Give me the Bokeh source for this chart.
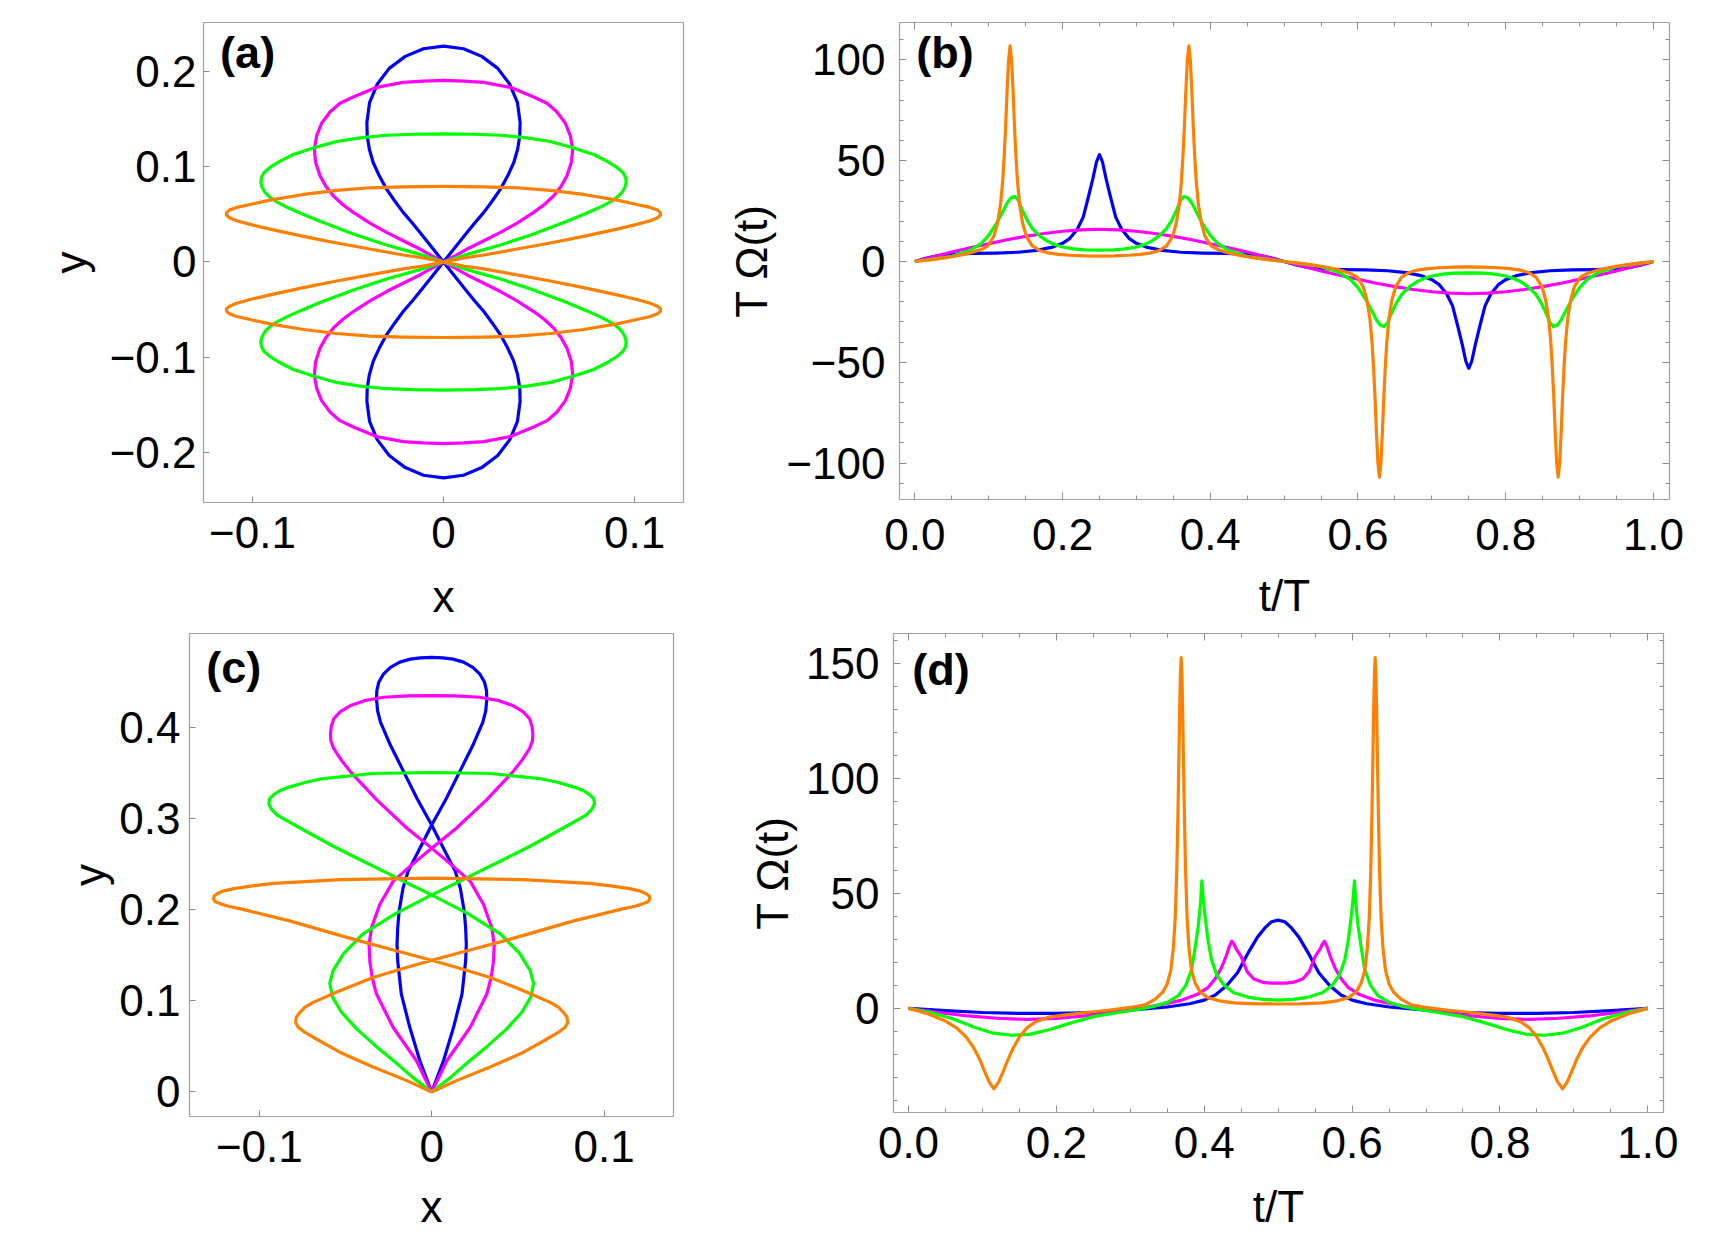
from bokeh.plotting import figure
from bokeh.models import FixedTicker, CustomJSTickFormatter, LinearAxis, Label, Range1d
from bokeh.layouts import column, row
from bokeh.embed import file_html
from bokeh.resources import INLINE

# ---------------- (a) closed orbits, x-y plane (one row per quadrant) ----------------
a_blue_x = [0, .0054, .0105, .0159, .0211, .0256, .0298, .0336, .0368, .0388, .0399, .0401, .0387, .0347, .0284, .0200, .0105, 0,
            -.0105, -.0200, -.0284, -.0347, -.0387, -.0401, -.0399, -.0388, -.0368, -.0336, -.0298, -.0256, -.0211, -.0159, -.0105, -.0054, 0,
            .0054, .0105, .0159, .0211, .0256, .0298, .0336, .0368, .0388, .0399, .0401, .0387, .0347, .0284, .0200, .0105, 0,
            -.0105, -.0200, -.0284, -.0347, -.0387, -.0401, -.0399, -.0388, -.0368, -.0336, -.0298, -.0256, -.0211, -.0159, -.0105, -.0054, 0]
a_blue_y = [0, .0136, .0265, .0398, .0520, .0642, .0764, .0903, .1043, .1182, .1322, .1461, .1671, .1863, .2030, .2156, .2236, .2264,
            .2236, .2156, .2030, .1863, .1671, .1461, .1322, .1182, .1043, .0903, .0764, .0642, .0520, .0398, .0265, .0136, 0,
            -.0136, -.0265, -.0398, -.0520, -.0642, -.0764, -.0903, -.1043, -.1182, -.1322, -.1461, -.1671, -.1863, -.2030, -.2156, -.2236, -.2264,
            -.2236, -.2156, -.2030, -.1863, -.1671, -.1461, -.1322, -.1182, -.1043, -.0903, -.0764, -.0642, -.0520, -.0398, -.0265, -.0136, 0]

a_magenta_x = [0, .0063, .0124, .0211, .0298, .0385, .0472, .0528, .0577, .0615, .0646, .0669, .0676, .0664, .0638, .0594, .0542, .0472, .0350, .0211, .0106, 0,
               -.0106, -.0211, -.0350, -.0472, -.0542, -.0594, -.0638, -.0664, -.0676, -.0669, -.0646, -.0615, -.0577, -.0528, -.0472, -.0385, -.0298, -.0211, -.0124, -.0063, 0,
               .0063, .0124, .0211, .0298, .0385, .0472, .0528, .0577, .0615, .0646, .0669, .0676, .0664, .0638, .0594, .0542, .0472, .0350, .0211, .0106, 0,
               -.0106, -.0211, -.0350, -.0472, -.0542, -.0594, -.0638, -.0664, -.0676, -.0669, -.0646, -.0615, -.0577, -.0528, -.0472, -.0385, -.0298, -.0211, -.0124, -.0063, 0]
a_magenta_y = [0, .0066, .0136, .0223, .0310, .0408, .0520, .0603, .0694, .0792, .0903, .1043, .1182, .1322, .1454, .1573, .1664, .1730, .1831, .1883, .1897, .1904,
               .1897, .1883, .1831, .1730, .1664, .1573, .1454, .1322, .1182, .1043, .0903, .0792, .0694, .0603, .0520, .0408, .0310, .0223, .0136, .0066, 0,
               -.0066, -.0136, -.0223, -.0310, -.0408, -.0520, -.0603, -.0694, -.0792, -.0903, -.1043, -.1182, -.1322, -.1454, -.1573, -.1664, -.1730, -.1831, -.1883, -.1897, -.1904,
               -.1897, -.1883, -.1831, -.1730, -.1664, -.1573, -.1454, -.1322, -.1182, -.1043, -.0903, -.0792, -.0694, -.0603, -.0520, -.0408, -.0310, -.0223, -.0136, -.0066, 0]

a_green_x = [0, .0124, .0298, .0472, .0646, .0751, .0821, .0873, .0908, .0934, .0949, .0956, .0953, .0939, .0908, .0855, .0786, .0681, .0559, .0437, .0298, .0159, 0,
             -.0159, -.0298, -.0437, -.0559, -.0681, -.0786, -.0855, -.0908, -.0939, -.0953, -.0956, -.0949, -.0934, -.0908, -.0873, -.0821, -.0751, -.0646, -.0472, -.0298, -.0124, 0,
             .0124, .0298, .0472, .0646, .0751, .0821, .0873, .0908, .0934, .0949, .0956, .0953, .0939, .0908, .0855, .0786, .0681, .0559, .0437, .0298, .0159, 0,
             -.0159, -.0298, -.0437, -.0559, -.0681, -.0786, -.0855, -.0908, -.0939, -.0953, -.0956, -.0949, -.0934, -.0908, -.0873, -.0821, -.0751, -.0646, -.0472, -.0298, -.0124, 0]
a_green_y = [0, .0080, .0178, .0293, .0426, .0513, .0576, .0631, .0677, .0729, .0781, .0834, .0886, .0938, .0991, .1057, .1127, .1196, .1263, .1301, .1329, .1339, .1343,
             .1339, .1329, .1301, .1263, .1196, .1127, .1057, .0991, .0938, .0886, .0834, .0781, .0729, .0677, .0631, .0576, .0513, .0426, .0293, .0178, .0080, 0,
             -.0080, -.0178, -.0293, -.0426, -.0513, -.0576, -.0631, -.0677, -.0729, -.0781, -.0834, -.0886, -.0938, -.0991, -.1057, -.1127, -.1196, -.1263, -.1301, -.1329, -.1339, -.1343,
             -.1339, -.1329, -.1301, -.1263, -.1196, -.1127, -.1057, -.0991, -.0938, -.0886, -.0834, -.0781, -.0729, -.0677, -.0631, -.0576, -.0513, -.0426, -.0293, -.0178, -.0080, 0]

a_orange_x = [0, .0106, .0211, .0385, .0559, .0733, .0908, .1012, .1082, .1120, .1136, .1134, .1120, .1082, .1012, .0908, .0733, .0559, .0385, .0211, 0,
              -.0211, -.0385, -.0559, -.0733, -.0908, -.1012, -.1082, -.1120, -.1134, -.1136, -.1120, -.1082, -.1012, -.0908, -.0733, -.0559, -.0385, -.0211, -.0106, 0,
              .0106, .0211, .0385, .0559, .0733, .0908, .1012, .1082, .1120, .1136, .1134, .1120, .1082, .1012, .0908, .0733, .0559, .0385, .0211, 0,
              -.0211, -.0385, -.0559, -.0733, -.0908, -.1012, -.1082, -.1120, -.1134, -.1136, -.1120, -.1082, -.1012, -.0908, -.0733, -.0559, -.0385, -.0211, -.0106, 0]
a_orange_y = [0, .0042, .0073, .0136, .0199, .0269, .0345, .0394, .0433, .0464, .0492, .0520, .0544, .0572, .0603, .0649, .0708, .0750, .0778, .0788, .0792,
              .0788, .0778, .0750, .0708, .0649, .0603, .0572, .0544, .0520, .0492, .0464, .0433, .0394, .0345, .0269, .0199, .0136, .0073, .0042, 0,
              -.0042, -.0073, -.0136, -.0199, -.0269, -.0345, -.0394, -.0433, -.0464, -.0492, -.0520, -.0544, -.0572, -.0603, -.0649, -.0708, -.0750, -.0778, -.0788, -.0792,
              -.0788, -.0778, -.0750, -.0708, -.0649, -.0603, -.0572, -.0544, -.0520, -.0492, -.0464, -.0433, -.0394, -.0345, -.0269, -.0199, -.0136, -.0073, -.0042, 0]

# ---------------- (b) T*Omega(t) for the orbits of (a) ----------------
b_blue_t = [0, .015, .03, .05, .08, .11, .14, .165, .185, .2, .21, .22, .228, .235, .241, .246, .25,
            .254, .259, .265, .272, .28, .29, .3, .315, .335, .36, .39, .42, .45, .47, .485, .5,
            .515, .53, .55, .58, .61, .64, .665, .685, .7, .71, .72, .728, .735, .741, .746, .75,
            .754, .759, .765, .772, .78, .79, .8, .815, .835, .86, .89, .92, .95, .97, .985, 1.0]
b_blue_v = [0, 1.6, 2.8, 3.6, 4.0, 4.2, 4.6, 5.5, 7.0, 9.0, 11.5, 16, 22, 32, 41, 49.5, 53,
            49.5, 41, 32, 22, 16, 11.5, 9.0, 7.0, 5.5, 4.6, 4.2, 4.0, 3.6, 2.8, 1.6, 0,
            -1.6, -2.8, -3.6, -4.0, -4.2, -4.6, -5.5, -7.0, -9.0, -11.5, -16, -22, -32, -41, -49.5, -53,
            -49.5, -41, -32, -22, -16, -11.5, -9.0, -7.0, -5.5, -4.6, -4.2, -4.0, -3.6, -2.8, -1.6, 0]

b_magenta_t = [0, .025, .05, .075, .1, .125, .15, .175, .2, .225, .25, .275, .3, .325, .35, .375, .4, .425, .45, .475, .5,
               .525, .55, .575, .6, .625, .65, .675, .7, .725, .75, .775, .8, .825, .85, .875, .9, .925, .95, .975, 1.0]
b_magenta_v = [0, 2.3, 4.7, 6.8, 8.8, 10.8, 12.5, 13.9, 15.0, 15.7, 16.0, 15.7, 15.0, 13.9, 12.5, 10.8, 8.8, 6.8, 4.7, 2.3, 0,
               -2.3, -4.7, -6.8, -8.8, -10.8, -12.5, -13.9, -15.0, -15.7, -16.0, -15.7, -15.0, -13.9, -12.5, -10.8, -8.8, -6.8, -4.7, -2.3, 0]

b_green_t = [0, .025, .05, .075, .09, .1, .11, .118, .125, .13, .1353, .14, .145, .152, .16, .17, .18, .19, .2, .215, .23, .25,
             .27, .285, .3, .31, .32, .33, .34, .348, .355, .36, .3647, .37, .375, .382, .39, .4, .41, .425, .45, .475, .5,
             .525, .55, .575, .59, .6, .61, .618, .625, .63, .6353, .64, .645, .652, .66, .67, .68, .69, .7, .715, .73, .75,
             .77, .785, .8, .81, .82, .83, .84, .848, .855, .86, .8647, .87, .875, .882, .89, .9, .91, .925, .95, .975, 1.0]
b_green_v = [0, 1.2, 2.6, 5.5, 9, 13, 18.5, 24, 29, 31.5, 32.3, 30.5, 26, 20.5, 16, 12.5, 10, 8.3, 7.2, 6.3, 5.8, 5.6,
             5.8, 6.3, 7.2, 8.3, 10, 12.5, 16, 20.5, 26, 30.5, 32.3, 31.5, 29, 24, 18.5, 13, 9, 5.5, 2.6, 1.2, 0,
             -1.2, -2.6, -5.5, -9, -13, -18.5, -24, -29, -31.5, -32.3, -30.5, -26, -20.5, -16, -12.5, -10, -8.3, -7.2, -6.3, -5.8, -5.6,
             -5.8, -6.3, -7.2, -8.3, -10, -12.5, -16, -20.5, -26, -30.5, -32.3, -31.5, -29, -24, -18.5, -13, -9, -5.5, -2.6, -1.2, 0]

b_orange_t = [0, .02, .04, .06, .075, .089, .099, .107, .112, .116, .119, .121, .123, .125, .127, .129, .131, .133, .135, .137,
              .139, .142, .146, .151, .159, .169, .18, .195, .21, .23, .25, .27, .29, .305, .32, .331, .341, .349, .354, .358,
              .361, .363, .365, .367, .369, .371, .373, .375, .377, .379, .381, .384, .388, .393, .401, .411, .425, .44, .46, .48, .5,
              .52, .54, .56, .575, .589, .599, .607, .612, .616, .619, .621, .623, .625, .627, .629, .631, .633, .635, .637, .639,
              .642, .646, .651, .659, .669, .68, .695, .71, .73, .75, .77, .79, .805, .82, .831, .841, .849, .854, .858, .861,
              .863, .865, .867, .869, .871, .873, .875, .877, .879, .881, .884, .888, .893, .901, .911, .925, .94, .96, .98, 1.0]
b_orange_v = [0, .8, 1.8, 3.0, 4.2, 5.8, 7.8, 12.5, 19, 28, 40, 52, 67, 85, 100, 107, 100, 85, 67, 52,
              40, 28, 19, 12.5, 7.8, 5.5, 4.3, 3.5, 3.1, 2.8, 2.7, 2.8, 3.1, 3.5, 4.3, 5.5, 7.8, 12.5, 19, 28,
              40, 52, 67, 85, 100, 107, 100, 85, 67, 52, 40, 28, 19, 12.5, 7.8, 5.8, 4.2, 3.0, 1.8, .8, 0,
              -.8, -1.8, -3.0, -4.2, -5.8, -7.8, -12.5, -19, -28, -40, -52, -67, -85, -100, -107, -100, -85, -67, -52, -40,
              -28, -19, -12.5, -7.8, -5.5, -4.3, -3.5, -3.1, -2.8, -2.7, -2.8, -3.1, -3.5, -4.3, -5.5, -7.8, -12.5, -19, -28, -40,
              -52, -67, -85, -100, -107, -100, -85, -67, -52, -40, -28, -19, -12.5, -7.8, -5.8, -4.2, -3.0, -1.8, -.8, 0]

# ---------------- (c) orbits starting at the origin, x-y plane ----------------
c_blue_x = [0, .0069, .0127, .0176, .0197, .0201, .0197, .0189, .0166, .0137, .0069, 0, -.0085, -.0162, -.0239, -.0297, -.0314,
            -.0320, -.0318, -.0307, -.0280, -.0239, -.0185, -.0124, -.0065, 0,
            .0065, .0124, .0185, .0239, .0280, .0307, .0318, .0320, .0314, .0297, .0239, .0162, .0085, 0, -.0069, -.0137,
            -.0166, -.0189, -.0197, -.0201, -.0197, -.0176, -.0127, -.0069, 0]
c_blue_y = [0, .0345, .0709, .1073, .1436, .1618, .1800, .1982, .2236, .2418, .2670, .2927, .3218, .3509, .3800, .4055, .4180,
            .4309, .4400, .4491, .4580, .4655, .4712, .4745, .4758, .4764,
            .4758, .4745, .4712, .4655, .4580, .4491, .4400, .4309, .4180, .4055, .3800, .3509, .3218, .2927, .2670, .2418,
            .2236, .1982, .1800, .1618, .1436, .1073, .0709, .0345, 0]

c_magenta_x = [0, .0089, .0224, .0320, .0345, .0359, .0363, .0349, .0301, .0224, .0115, 0, -.0143, -.0317, -.0471, -.0525,
               -.0568, -.0585, -.0587, -.0582, -.0568, -.0530, -.0471, -.0390, -.0278, -.0140, 0,
               .0140, .0278, .0390, .0471, .0530, .0568, .0582, .0587, .0585, .0568, .0525, .0471, .0317, .0143, 0,
               -.0115, -.0224, -.0301, -.0349, -.0363, -.0359, -.0345, -.0320, -.0224, -.0089, 0]
c_magenta_y = [0, .0345, .0709, .1073, .1255, .1436, .1618, .1800, .2055, .2309, .2490, .2673, .2891, .3200, .3509, .3640,
               .3764, .3850, .3927, .4010, .4091, .4170, .4236, .4290, .4327, .4342, .4345,
               .4342, .4327, .4290, .4236, .4170, .4091, .4010, .3927, .3850, .3764, .3640, .3509, .3200, .2891, .2673,
               .2490, .2309, .2055, .1800, .1618, .1436, .1255, .1073, .0709, .0345, 0]

c_green_x = [0, .0110, .0214, .0330, .0437, .0524, .0575, .0591, .0572, .0510, .0400, .0210, 0, -.0143, -.0278, -.0394,
             -.0568, -.0761, -.0896, -.0930, -.0945, -.0940, -.0919, -.0880, -.0822, -.0730, -.0629, -.0340, 0,
             .0340, .0629, .0730, .0822, .0880, .0919, .0940, .0945, .0930, .0896, .0761, .0568, .0394, .0278, .0143, 0,
             -.0210, -.0400, -.0510, -.0572, -.0591, -.0575, -.0524, -.0437, -.0330, -.0214, -.0110, 0]
c_green_y = [0, .0160, .0331, .0513, .0695, .0877, .1040, .1190, .1330, .1520, .1730, .1955, .2160, .2291, .2418, .2527,
             .2691, .2891, .3036, .3100, .3164, .3215, .3255, .3305, .3345, .3395, .3436, .3491, .3502,
             .3491, .3436, .3395, .3345, .3305, .3255, .3215, .3164, .3100, .3036, .2891, .2691, .2527, .2418, .2291, .2160,
             .1955, .1730, .1520, .1330, .1190, .1040, .0877, .0695, .0513, .0331, .0160, 0]

c_orange_x = [0, .0147, .0340, .0533, .0687, .0740, .0774, .0790, .0785, .0764, .0735, .0687, .0533, .0340, .0147, 0,
              -.0239, -.0452, -.0819, -.1108, -.1180, -.1224, -.1255, -.1266, -.1262, -.1243, -.1205, -.1147, -.1040, -.0915, -.0529, 0,
              .0529, .0915, .1040, .1147, .1205, .1243, .1262, .1266, .1255, .1224, .1180, .1108, .0819, .0452, .0239, 0,
              -.0147, -.0340, -.0533, -.0687, -.0735, -.0764, -.0785, -.0790, -.0774, -.0740, -.0687, -.0533, -.0340, -.0147, 0]
c_orange_y = [0, .0127, .0273, .0436, .0600, .0660, .0709, .0764, .0820, .0873, .0930, .0982, .1109, .1255, .1364, .1444,
              .1564, .1673, .1873, .2007, .2036, .2062, .2085, .2116, .2148, .2175, .2205, .2229, .2260, .2287, .2327, .2345,
              .2327, .2287, .2260, .2229, .2205, .2175, .2148, .2116, .2085, .2062, .2036, .2007, .1873, .1673, .1564, .1444,
              .1364, .1255, .1109, .0982, .0930, .0873, .0820, .0764, .0709, .0660, .0600, .0436, .0273, .0127, 0]

# ---------------- (d) T*Omega(t) for the orbits of (c) ----------------
d_blue_t = [0, .05, .1, .15, .2, .25, .3, .35, .38, .4, .415, .43, .445, .46, .472, .482, .491, .5,
            .509, .518, .528, .54, .555, .57, .585, .6, .62, .65, .7, .75, .8, .85, .9, .95, 1.0]
d_blue_v = [0, -1, -1.8, -2.2, -2.2, -1.8, -0.8, 0.6, 2, 3.6, 5.8, 9.8, 15.5, 24.5, 31, 35, 37.7, 38.4,
            37.7, 35, 31, 24.5, 15.5, 9.8, 5.8, 3.6, 2, 0.6, -0.8, -1.8, -2.2, -2.2, -1.8, -1, 0]

d_magenta_t = [0, .04, .08, .12, .16, .2, .25, .3, .34, .37, .39, .405, .415, .423, .43, .434, .4373, .4405, .443, .45,
               .458, .467, .48, .49, .5, .51, .52, .533, .542, .55, .557, .5595, .5627, .566, .57, .577, .585, .595,
               .61, .63, .66, .7, .75, .8, .84, .88, .92, .96, 1.0]
d_magenta_v = [0, -1.8, -3.3, -4.3, -4.8, -4.4, -2.9, -0.8, 1.5, 3.6, 6, 9, 13, 17.5, 23, 27, 29.2, 27.8, 26, 22.5,
               16, 12.8, 11.3, 11, 11, 11, 11.3, 12.8, 16, 22.5, 26, 27.8, 29.2, 27, 23, 17.5, 13, 9,
               6, 3.6, 1.5, -0.8, -2.9, -4.4, -4.8, -4.3, -3.3, -1.8, 0]

d_green_t = [0, .03, .06, .09, .115, .14, .165, .19, .22, .25, .28, .31, .33, .35, .365, .375, .383, .388, .392, .395,
             .3968, .3986, .4005, .403, .4055, .41, .417, .427, .44, .46, .48, .5,
             .52, .54, .56, .573, .583, .59, .5945, .597, .5995, .6014, .6032, .605, .608, .612, .617, .625, .635, .65,
             .67, .69, .72, .75, .78, .81, .835, .86, .885, .91, .94, .97, 1.0]
d_green_v = [0, -1.8, -4.5, -8.3, -10.8, -11.7, -11.2, -9.3, -6.3, -3.6, -2, -0.5, 0.7, 2.6, 5.5, 10, 17, 27, 36, 46,
             55.5, 48, 42, 35, 29, 21, 14.5, 10, 6.8, 4.8, 3.9, 3.6,
             3.9, 4.8, 6.8, 10, 14.5, 21, 29, 35, 42, 48, 55.5, 46, 36, 27, 17, 10, 5.5, 2.6,
             0.7, -0.5, -2, -3.6, -6.3, -9.3, -11.2, -11.7, -10.8, -8.3, -4.5, -1.8, 0]

d_orange_t = [0, .025, .05, .065, .078, .088, .096, .103, .109, .1154, .122, .128, .135, .142, .15, .16, .172, .19, .21, .24,
              .27, .30, .32, .3338, .3438, .3498, .3548, .3583, .3608, .3628, .3643, .3658, .3668, .3678, .3688, .3698,
              .3708, .3718, .3733, .3748, .3768, .3793, .3828, .3878, .3938, .4038, .42, .44, .47, .5,
              .53, .56, .58, .5962, .6062, .6122, .6172, .6207, .6232, .6252, .6267, .6282, .6292, .6302, .6312, .6322,
              .6332, .6342, .6357, .6372, .6392, .6417, .6452, .6502, .6562, .6662, .68, .70, .73, .76, .79, .81, .828,
              .84, .85, .858, .865, .872, .878, .8846, .891, .897, .904, .912, .922, .935, .95, .975, 1.0]
d_orange_v = [0, -2.2, -5.5, -8.5, -12.5, -17, -22, -27.5, -32, -35, -32, -27.5, -22, -17, -12.5, -8.5, -5.8, -3.8, -2.9, -1.8,
              -0.8, 0.4, 1.5, 4, 7, 10.5, 16.5, 26.5, 39.5, 59.5, 82, 110, 130, 145, 152.6, 145,
              130, 110, 82, 59.5, 39.5, 26.5, 16.5, 11, 7.5, 4.8, 3.3, 2.4, 2.0, 1.9,
              2.0, 2.4, 3.3, 4.8, 7.5, 11, 16.5, 26.5, 39.5, 59.5, 82, 110, 130, 145, 152.6, 145,
              130, 110, 82, 59.5, 39.5, 26.5, 16.5, 10.5, 7, 4, 1.5, 0.4, -0.8, -1.8, -2.9, -3.8, -5.8,
              -8.5, -12.5, -17, -22, -27.5, -32, -35, -32, -27.5, -22, -17, -12.5, -8.5, -5.5, -2.2, 0]

# ---------------- tick positions ----------------
coord_ticks_a_x = [-0.1, 0, 0.1]
coord_ticks_a_y = [-0.2, -0.1, 0, 0.1, 0.2]
coord_ticks_c_x = [-0.1, 0, 0.1]
coord_ticks_c_y = [0, 0.1, 0.2, 0.3, 0.4]
time_ticks = [0, 0.2, 0.4, 0.6, 0.8, 1.0]
time_minor = [0.05, 0.1, 0.15, 0.25, 0.3, 0.35, 0.45, 0.5, 0.55, 0.65, 0.7, 0.75, 0.85, 0.9, 0.95]
omega_ticks_b = [-100, -50, 0, 50, 100]
omega_minor_b = [-110, -90, -80, -70, -60, -40, -30, -20, -10, 10, 20, 30, 40, 60, 70, 80, 90, 110]
omega_ticks_d = [0, 50, 100, 150]
omega_minor_d = [-40, -30, -20, -10, 10, 20, 30, 40, 60, 70, 80, 90, 110, 120, 130, 140, 160]

BLUE, MAGENTA, GREEN, ORANGE = "#0000ff", "#ff00ff", "#00ff00", "#ff8000"
FONT = "Liberation Sans"
FRAME_COLOR = "#a0a0a0"
TICK_COLOR = "#8c8c8c"

FMT_COORD = """
if (Math.abs(tick) < 1e-9) { return "0"; }
const s = Math.abs(tick).toFixed(1);
return (tick < 0 ? "\u2212" : "") + s;
"""
FMT_TIME = "return tick.toFixed(1);"
FMT_INT = """
const v = Math.round(tick);
return (v < 0 ? "\u2212" : "") + Math.abs(v);
"""
FMT_BLANK = "return '';"


def style_axis(ax, ticks, minor, fmt, label=None, standoff=8, label_standoff=8, tick_len=6, size="44px"):
    ax.ticker = FixedTicker(ticks=ticks, minor_ticks=minor)
    ax.formatter = CustomJSTickFormatter(code=fmt)
    ax.axis_line_color = None
    ax.major_tick_in = tick_len
    ax.major_tick_out = 0
    ax.minor_tick_in = 4
    ax.minor_tick_out = 0
    ax.major_tick_line_color = TICK_COLOR
    ax.minor_tick_line_color = TICK_COLOR if minor else None
    ax.major_label_standoff = standoff
    ax.major_label_text_font = FONT
    ax.major_label_text_font_size = size
    ax.major_label_text_color = "black"
    if label is not None:
        ax.axis_label = label
        ax.axis_label_standoff = label_standoff
        ax.axis_label_text_font = FONT
        ax.axis_label_text_font_size = "44px"
        ax.axis_label_text_font_style = "normal"
        ax.axis_label_text_color = "black"


def make_panel(xr, yr, fw, fh, borders):
    left, right, top, bottom = borders
    p = figure(frame_width=fw, frame_height=fh,
               x_range=Range1d(*xr), y_range=Range1d(*yr),
               output_backend="svg", toolbar_location=None, tools="",
               min_border_left=left, min_border_right=right,
               min_border_top=top, min_border_bottom=bottom,
               background_fill_color="white", border_fill_color="white")
    p.grid.visible = False
    p.outline_line_color = FRAME_COLOR
    p.outline_line_width = 1.2
    return p


def add_mirror_axes(p, xt, xm, yt, ym, tick_len):
    top = LinearAxis()
    style_axis(top, xt, xm, FMT_BLANK, standoff=0, tick_len=tick_len, size="1px")
    right = LinearAxis()
    style_axis(right, yt, ym, FMT_BLANK, standoff=0, tick_len=tick_len, size="1px")
    p.add_layout(top, "above")
    p.add_layout(right, "right")


def panel_label(p, x, y, text):
    p.add_layout(Label(x=x, y=y, text=text, text_font=FONT, text_font_size="45px",
                       text_font_style="bold", text_baseline="top", text_align="left",
                       text_color="black"))


def draw(p, xs, ys):
    for x, y, c in zip(xs, ys, [BLUE, MAGENTA, GREEN, ORANGE]):
        assert len(x) == len(y)
        p.line(x, y, line_color=c, line_width=3.2, line_join="round")


# top row: frames share their top edge, bottom borders are equal
# (a)
pa = make_panel((-0.1256, 0.1256), (-0.2522, 0.2511), 480, 480, (203, 31, 22, 128))
style_axis(pa.xaxis[0], coord_ticks_a_x, [], FMT_COORD, "x", standoff=14, label_standoff=21)
style_axis(pa.yaxis[0], coord_ticks_a_y, [], FMT_COORD, "y", standoff=7, label_standoff=12)
draw(pa, [a_blue_x, a_magenta_x, a_green_x, a_orange_x], [a_blue_y, a_magenta_y, a_green_y, a_orange_y])
panel_label(pa, -0.1169, 0.2469, "(a)")

# (b)
pb = make_panel((-0.0207, 1.0217), (-118.1, 118.6), 770, 477, (185, 30, 22, 128))
style_axis(pb.xaxis[0], time_ticks, time_minor, FMT_TIME, "t/T", standoff=19, label_standoff=18, tick_len=7)
style_axis(pb.yaxis[0], omega_ticks_b, omega_minor_b, FMT_INT, "T \u03a9(t)", standoff=14, label_standoff=7, tick_len=7)
add_mirror_axes(pb, time_ticks, time_minor, omega_ticks_b, omega_minor_b, 7)
draw(pb, [b_blue_t, b_magenta_t, b_green_t, b_orange_t], [b_blue_v, b_magenta_v, b_green_v, b_orange_v])
panel_label(pb, 0.002, 116.6, "(b)")

# bottom row
# (c)
pc = make_panel((-0.1405, 0.1403), (-0.0269, 0.5026), 484, 483, (189, 40, 3, 128))
style_axis(pc.xaxis[0], coord_ticks_c_x, [], FMT_COORD, "x", standoff=14, label_standoff=17)
style_axis(pc.yaxis[0], coord_ticks_c_y, [], FMT_COORD, "y", standoff=9, label_standoff=2)
draw(pc, [c_blue_x, c_magenta_x, c_green_x, c_orange_x], [c_blue_y, c_magenta_y, c_green_y, c_orange_y])
panel_label(pc, -0.1308, 0.4935, "(c)")

# (d)
pd = make_panel((-0.0203, 1.0212), (-45.3, 163.1), 770, 479, (180, 30, 3, 128))
style_axis(pd.xaxis[0], time_ticks, time_minor, FMT_TIME, "t/T", standoff=14, label_standoff=21, tick_len=7)
style_axis(pd.yaxis[0], omega_ticks_d, omega_minor_d, FMT_INT, "T \u03a9(t)", standoff=14, label_standoff=6, tick_len=7)
add_mirror_axes(pd, time_ticks, time_minor, omega_ticks_d, omega_minor_d, 7)
draw(pd, [d_blue_t, d_magenta_t, d_green_t, d_orange_t], [d_blue_v, d_magenta_v, d_green_v, d_orange_v])
panel_label(pd, 0.005, 158.5, "(d)")

layout = column(row(pa, pb), row(pc, pd))
open("out.html", "w").write(file_html(layout, INLINE, title="Orbits and angular velocity"))
